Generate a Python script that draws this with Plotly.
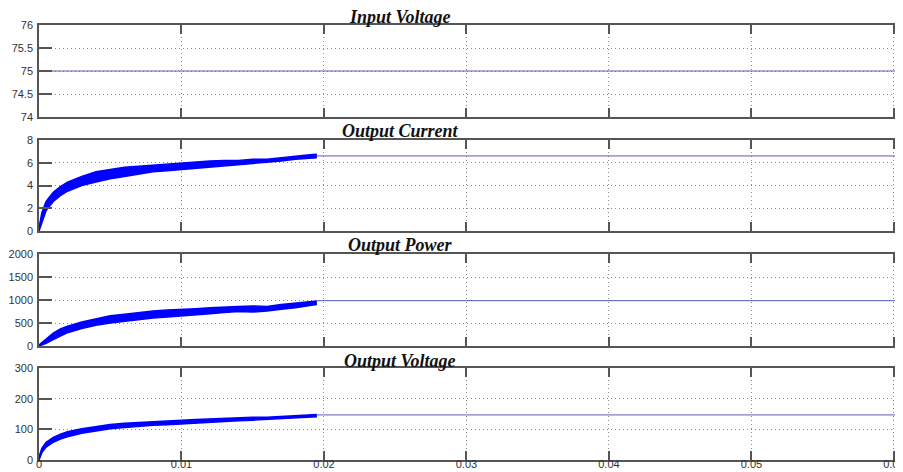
import plotly.graph_objects as go

# ---------------- data ----------------
t_end = 0.0612
t_switch = 0.0195

input_voltage_t = [0.0, 0.0612]
input_voltage = [75.0, 75.0]

# Output current: ripple band (upper / lower envelopes) then steady value
cur_t = [0, 0.0002, 0.0005, 0.001, 0.0015, 0.002, 0.003, 0.004, 0.005, 0.006, 0.007,
         0.008, 0.009, 0.010, 0.011, 0.012, 0.013, 0.014, 0.015, 0.016, 0.017, 0.018, 0.019, 0.0195]
cur_upper = [0.3, 1.6, 2.6, 3.4, 3.9, 4.3, 4.8, 5.2, 5.4, 5.6, 5.7,
             5.8, 5.9, 6.0, 6.1, 6.15, 6.2, 6.2, 6.3, 6.3, 6.45, 6.6, 6.7, 6.75]
cur_lower = [0.0, 0.8, 1.8, 2.6, 3.1, 3.5, 4.0, 4.3, 4.6, 4.8, 5.0,
             5.2, 5.3, 5.4, 5.5, 5.65, 5.75, 5.8, 5.9, 6.0, 6.15, 6.3, 6.4, 6.45]
cur_steady = 6.6

# Output power
pow_t = [0, 0.0005, 0.001, 0.0015, 0.002, 0.003, 0.004, 0.005, 0.006, 0.007,
         0.008, 0.009, 0.010, 0.011, 0.012, 0.013, 0.014, 0.015, 0.016, 0.017, 0.018, 0.019, 0.0195]
pow_upper = [20, 160, 280, 370, 430, 520, 590, 660, 690, 730,
             760, 780, 790, 810, 830, 850, 860, 870, 860, 900, 930, 960, 980]
pow_lower = [0, 60, 140, 220, 290, 380, 450, 500, 540, 580,
             610, 630, 650, 680, 700, 730, 750, 740, 760, 800, 830, 880, 900]
pow_steady = 985

# Output voltage
volt_t = [0, 0.0002, 0.0005, 0.001, 0.0015, 0.002, 0.003, 0.004, 0.005, 0.006, 0.007,
          0.008, 0.009, 0.010, 0.011, 0.012, 0.013, 0.014, 0.015, 0.016, 0.017, 0.018, 0.019, 0.0195]
volt_upper = [10, 38, 58, 74, 84, 92, 102, 110, 116, 120, 123,
              126, 128, 130, 132, 134, 136, 138, 139, 139, 142, 145, 147, 148]
volt_lower = [0, 24, 42, 58, 68, 76, 87, 95, 102, 106, 110,
              113, 115, 118, 121, 124, 126, 128, 130, 132, 135, 138, 140, 141]
volt_steady = 147

titles = ["Input Voltage", "Output Current", "Output Power", "Output Voltage"]
y_ranges = [[74, 76], [0, 8], [0, 2000], [0, 300]]
y_ticks = [[74, 74.5, 75, 75.5, 76], [0, 2, 4, 6, 8], [0, 500, 1000, 1500, 2000], [0, 100, 200, 300]]
x_ticks = [0, 0.01, 0.02, 0.03, 0.04, 0.05, 0.06]
x_ticklabels = ["0", "0.01", "0.02", "0.03", "0.04", "0.05", "0.06"]

# ---------------- figure ----------------
W, H = 903, 472
OFF = 8            # page offset of the plot div
ML = 39 - OFF
BAND = "#0000ff"
THIN = "#5b5bb0"

# panel pixel extents in the screenshot (top, bottom)
panels_px = [(25, 117), (140, 231), (254, 346), (368, 460)]
title_y_px = [16.5, 130.5, 244.5, 360.5]
title_x_px = 400

fig = go.Figure()

def band(x, up, lo, ax):
    fig.add_trace(go.Scatter(x=x, y=up, mode="lines", line=dict(color=BAND, width=1.5),
                             xaxis="x" + ax, yaxis="y" + ax, showlegend=False, hoverinfo="skip"))
    fig.add_trace(go.Scatter(x=x, y=lo, mode="lines", line=dict(color=BAND, width=1.5),
                             fill="tonexty", fillcolor=BAND,
                             xaxis="x" + ax, yaxis="y" + ax, showlegend=False, hoverinfo="skip"))

def steady(val, ax):
    fig.add_trace(go.Scatter(x=[t_switch, t_end], y=[val, val], mode="lines",
                             line=dict(color=THIN, width=1),
                             xaxis="x" + ax, yaxis="y" + ax, showlegend=False))

fig.add_trace(go.Scatter(x=input_voltage_t, y=input_voltage, mode="lines",
                         line=dict(color=THIN, width=1), xaxis="x", yaxis="y", showlegend=False))
band(cur_t, cur_upper, cur_lower, "2"); steady(cur_steady, "2")
band(pow_t, pow_upper, pow_lower, "3"); steady(pow_steady, "3")
band(volt_t, volt_upper, volt_lower, "4"); steady(volt_steady, "4")

tickfont = dict(family="Liberation Sans, Arial, sans-serif", size=11, color="#333333")
xtickfont = dict(family="Liberation Sans, Arial, sans-serif", size=11, color="#333333")
layout = dict(
    template="none",
    width=W, height=H,
    margin=dict(l=ML, r=0, t=0, b=0, autoexpand=False),
    paper_bgcolor="white", plot_bgcolor="white",
    showlegend=False,
)
annotations = []
for i in range(4):
    top, bot = panels_px[i]
    dom = [1 - (bot - OFF) / H, 1 - (top - OFF) / H]
    suf = "" if i == 0 else str(i + 1)
    xa = dict(domain=[0, 1], range=[0, t_end], tickvals=x_ticks,
              ticktext=x_ticklabels,
              showticklabels=(i == 3), ticks="inside", ticklen=9, tickwidth=2,
              tickcolor="#555555", showline=True, linecolor="#555555", linewidth=1.5,
              mirror="ticks", showgrid=True, gridcolor="#8a8a8a", griddash="1px,3px",
              gridwidth=1, zeroline=False, tickfont=xtickfont, anchor="y" + suf,
              automargin=False, fixedrange=True, ticklabelstandoff=-7)
    ya = dict(domain=dom, range=y_ranges[i], tickvals=y_ticks[i],
              ticks="inside", ticklen=13, tickwidth=2, tickcolor="#555555",
              showline=True, linecolor="#555555", linewidth=1.5, mirror="ticks",
              showgrid=True, gridcolor="#8a8a8a", griddash="1px,3px", gridwidth=1,
              zeroline=False, tickfont=tickfont, anchor="x" + suf,
              automargin=False, fixedrange=True, ticklabelstandoff=2)
    layout["xaxis" + suf] = xa
    layout["yaxis" + suf] = ya
    annotations.append(dict(
        text="<b><i>" + titles[i] + "</i></b>", xref="paper", yref="paper",
        x=(title_x_px - OFF - ML) / (W - ML), y=1 - (title_y_px[i] - OFF) / H,
        xanchor="center", yanchor="middle", showarrow=False,
        font=dict(family="Liberation Serif, Times New Roman, serif", size=18, color="#111111")))
layout["annotations"] = annotations
fig.update_layout(**layout)

fig.write_html("out.html")
